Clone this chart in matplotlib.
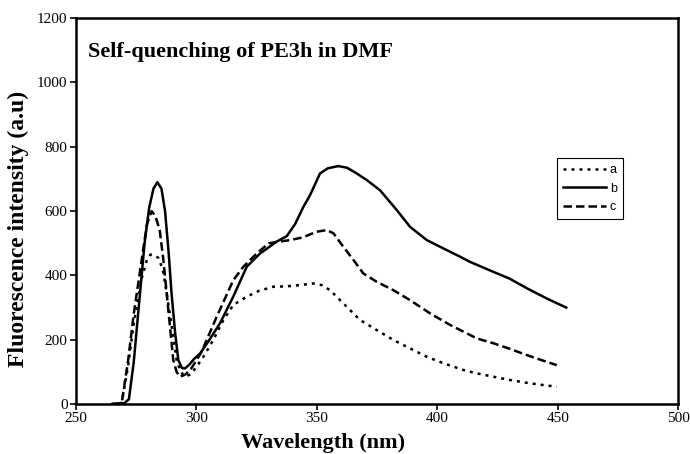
import matplotlib
matplotlib.use('Agg')
import matplotlib.pyplot as plt
import numpy as np

# curve b (solid)
wl_b = [265, 270, 272, 274, 276.6, 278.5, 280.4, 282.2, 283.8, 285.5, 287, 288.5, 289.7, 291.2,
        292.5, 294, 295.3, 297, 299, 301.5, 305, 309.8, 315.3, 320.9, 326.4, 333.3, 337.5,
        341, 344.4, 347.2, 351.3, 354.5, 358.9, 362.5, 366.6, 371, 376.2, 383.2, 388.7, 395.6,
        402.5, 409.5, 413.6, 423.3, 430, 437.2, 445.5, 453.5]
int_b = [0, 2, 15, 130, 344, 500, 610, 670, 690, 670, 600, 470, 344, 220,
         137, 112, 111, 122, 140, 157, 195, 251, 334, 427, 468, 505, 522,
         560, 613, 650, 717, 733, 740, 735, 717, 695, 665, 603, 551, 510,
         484, 458, 442, 411, 390, 360, 328, 300]

# curve c (dashed)
wl_c = [265, 269, 271.7, 274, 277.3, 279.5, 281.4, 283, 284.8, 286.3, 288.4, 290.4, 291.8,
        293.2, 295.5, 298, 302, 308.4, 315.3, 319.5, 325, 330, 338.9, 344, 350, 354.1,
        356.9, 361, 365.2, 369.3, 374.9, 381.8, 388.7, 397, 405.3, 412.2, 416.4, 423.3,
        430, 437.2, 445.5, 449.6]
int_c = [0, 3, 137, 280, 448, 560, 600, 585, 540, 448, 290, 137, 100,
         85, 92, 112, 160, 271, 385, 427, 468, 500, 510, 518, 536, 541,
         531, 489, 448, 406, 380, 354, 323, 282, 246, 220, 204, 189,
         172, 152, 131, 121]

# curve a (dotted)
wl_a = [265, 269, 271.7, 274, 277.3, 279.5, 281, 282.5, 284.2, 286, 287.7, 289.8, 291.8,
        293.5, 295.3, 297.5, 300, 302.9, 307, 311.2, 315.3, 320.9, 326, 332, 337.5, 343,
        348.6, 352, 355.5, 361, 368, 374.9, 381.8, 388.7, 395.6, 402.5, 410.8, 416,
        423.3, 430, 437.2, 443, 449.6]
int_a = [0, 3, 120, 250, 390, 450, 465, 462, 455, 420, 344, 240, 137,
         100, 85, 92, 115, 147, 199, 261, 308, 334, 352, 365, 366, 370,
         375, 370, 354, 313, 261, 230, 199, 173, 147, 127, 106, 96,
         85, 75, 66, 60, 54]

plt.rcParams['font.family'] = ['Liberation Serif', 'DejaVu Serif']

fig = plt.figure(figsize=(6.9, 4.54), dpi=100)
ax = fig.add_axes([0.110, 0.110, 0.873, 0.850])

ax.plot(wl_a, int_a, color='black', lw=1.8, linestyle=(0, (1.2, 2.0)), label='a')
ax.plot(wl_b, int_b, color='black', lw=1.8, linestyle='-', label='b')
ax.plot(wl_c, int_c, color='black', lw=1.8, linestyle=(0, (3.4, 1.6)), label='c')

ax.set_xlim(250, 500)
ax.set_ylim(0, 1200)
ax.set_xticks(np.arange(250, 501, 50))
ax.set_yticks(np.arange(0, 1201, 200))
ax.tick_params(direction='out', length=4, width=1.2, labelsize=11, pad=2)
for s in ax.spines.values():
    s.set_linewidth(1.8)

ax.set_xlabel('Wavelength (nm)', fontsize=16, fontweight='bold')
ax.xaxis.set_label_coords(0.41, -0.075)
ax.set_ylabel('Fluorescence intensity (a.u)', fontsize=17, fontweight='bold')
ax.yaxis.set_label_coords(-0.078, 0.455)

ax.text(0.02, 0.899, 'Self-quenching of PE3h in DMF', transform=ax.transAxes,
        fontsize=16, fontweight='bold', va='baseline', ha='left')

leg = ax.legend(loc='upper left', bbox_to_anchor=(0.799, 0.637), borderaxespad=0,
                fancybox=False, edgecolor='black', framealpha=1, handlelength=3.4,
                handletextpad=0.3, labelspacing=0.5, borderpad=0.5,
                prop={'family': 'Liberation Sans', 'size': 9})
leg.get_frame().set_linewidth(0.8)

fig.savefig('out.png', dpi=100)
